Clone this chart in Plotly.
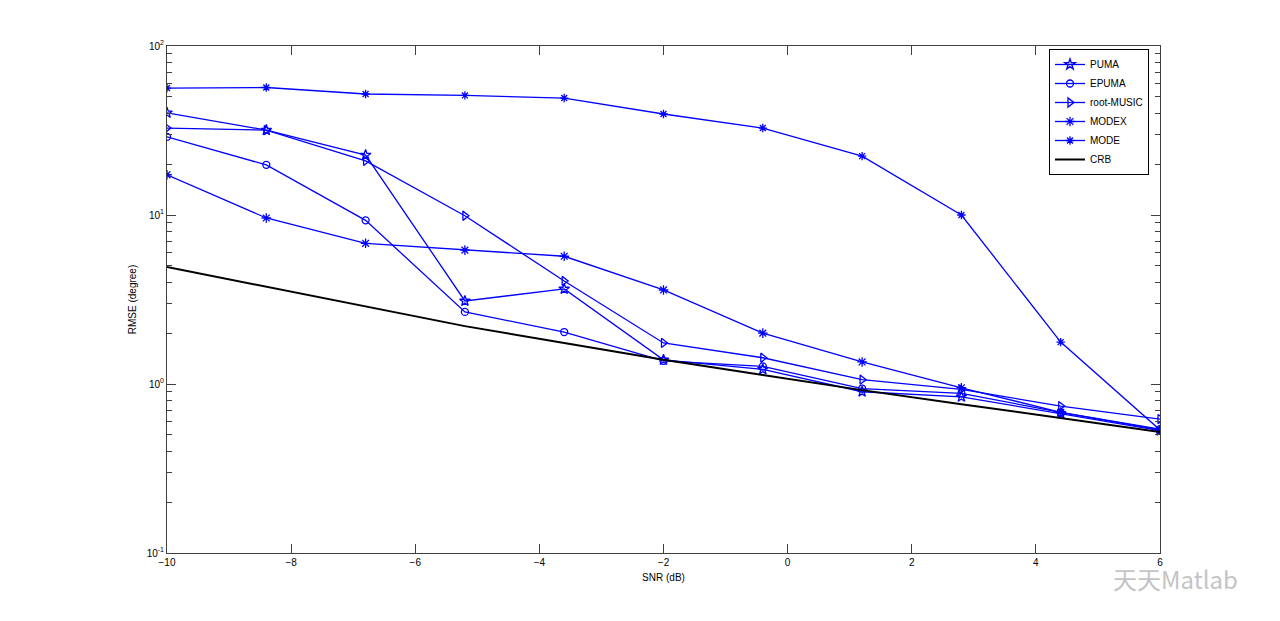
import plotly.graph_objects as go

snr = [-10, -8.4, -6.8, -5.2, -3.6, -2, -0.4, 1.2, 2.8, 4.4, 6]

puma = [40.2, 31.8, 22.6, 3.1, 3.65, 1.39, 1.22, 0.90, 0.84, 0.67, 0.53]
epuma = [29.0, 19.8, 9.3, 2.67, 2.03, 1.37, 1.27, 0.94, 0.88, 0.68, 0.54]
root_music = [32.7, 31.8, 20.9, 9.9, 4.07, 1.75, 1.43, 1.06, 0.93, 0.74, 0.62]
modex = [17.3, 9.6, 6.8, 6.2, 5.7, 3.6, 2.0, 1.35, 0.95, 0.68, 0.535]
mode = [56.4, 56.8, 52.0, 51.0, 49.2, 39.6, 32.7, 22.3, 10.0, 1.77, 0.535]
crb = [4.92, 3.76, 2.87, 2.20, 1.75, 1.39, 1.13, 0.92, 0.76, 0.63, 0.52]

series = [
    ("PUMA", puma, "star-open", 8),
    ("EPUMA", epuma, "circle-open", 7),
    ("root-MUSIC", root_music, "triangle-right-open", 8),
    ("MODEX", modex, "asterisk-open", 8),
    ("MODE", mode, "asterisk-open", 7),
]

blue = "#0000FF"
fig = go.Figure()
for name, vals, sym, sz in series:
    fig.add_trace(go.Scatter(
        x=snr, y=vals, name=name, mode="lines+markers",
        line=dict(color=blue, width=1.3),
        marker=dict(symbol=sym, size=sz, color=blue, line=dict(color=blue, width=1.3)),
    ))
fig.add_trace(go.Scatter(
    x=snr, y=crb, name="CRB", mode="lines",
    line=dict(color="black", width=2),
))

font = "Liberation Sans, Arial, sans-serif"
minor_vals = [m * 10 ** e for e in (-1, 0, 1) for m in range(2, 10)]
axcol = "#404040"

# page body has an 8px offset; margins compensate so the plot box sits at 167..1160 x 46..553
fig.update_layout(
    width=1280, height=621,
    paper_bgcolor="white", plot_bgcolor="white",
    margin=dict(l=159, r=128, t=38, b=76),
    font=dict(family=font, size=10, color="black"),
    showlegend=True,
    legend=dict(
        x=(1049 - 167) / 993, y=(553 - 49) / 507, xanchor="left", yanchor="top",
        bgcolor="white", bordercolor="black", borderwidth=1,
        font=dict(family=font, size=10, color="black"),
        tracegroupgap=0, itemwidth=30,
    ),
    xaxis=dict(
        range=[-10, 6], tickvals=[-10, -8, -6, -4, -2, 0, 2, 4, 6],
        ticks="inside", ticklen=9, tickcolor=axcol,
        showline=True, linecolor=axcol, linewidth=1, mirror="ticks",
        showgrid=False, zeroline=False,
        title=dict(text="SNR (dB)", standoff=6, font=dict(size=10)),
        tickfont=dict(size=10),
    ),
    yaxis=dict(
        type="log", range=[-1, 2],
        tickvals=[0.1, 1, 10, 100],
        ticktext=["10<sup>-1</sup>", "10<sup>0</sup>", "10<sup>1</sup>", "10<sup>2</sup>"],
        ticks="inside", ticklen=9, tickcolor=axcol,
        minor=dict(tickvals=minor_vals, ticks="inside", ticklen=5, tickcolor=axcol, showgrid=False),
        showline=True, linecolor=axcol, linewidth=1, mirror="ticks",
        showgrid=False, zeroline=False,
        title=dict(text="RMSE (degree)", standoff=8, font=dict(size=10)),
        tickfont=dict(size=10),
    ),
)

fig.add_annotation(
    xref="x domain", yref="y domain",
    x=(1240 - 167) / 993, y=(553 - 578) / 507,
    text="天天Matlab", xanchor="right", yanchor="middle", showarrow=False,
    font=dict(family="Noto Sans CJK SC", size=24, color="#c4c4c4"),
)

fig.write_html("out.html")
